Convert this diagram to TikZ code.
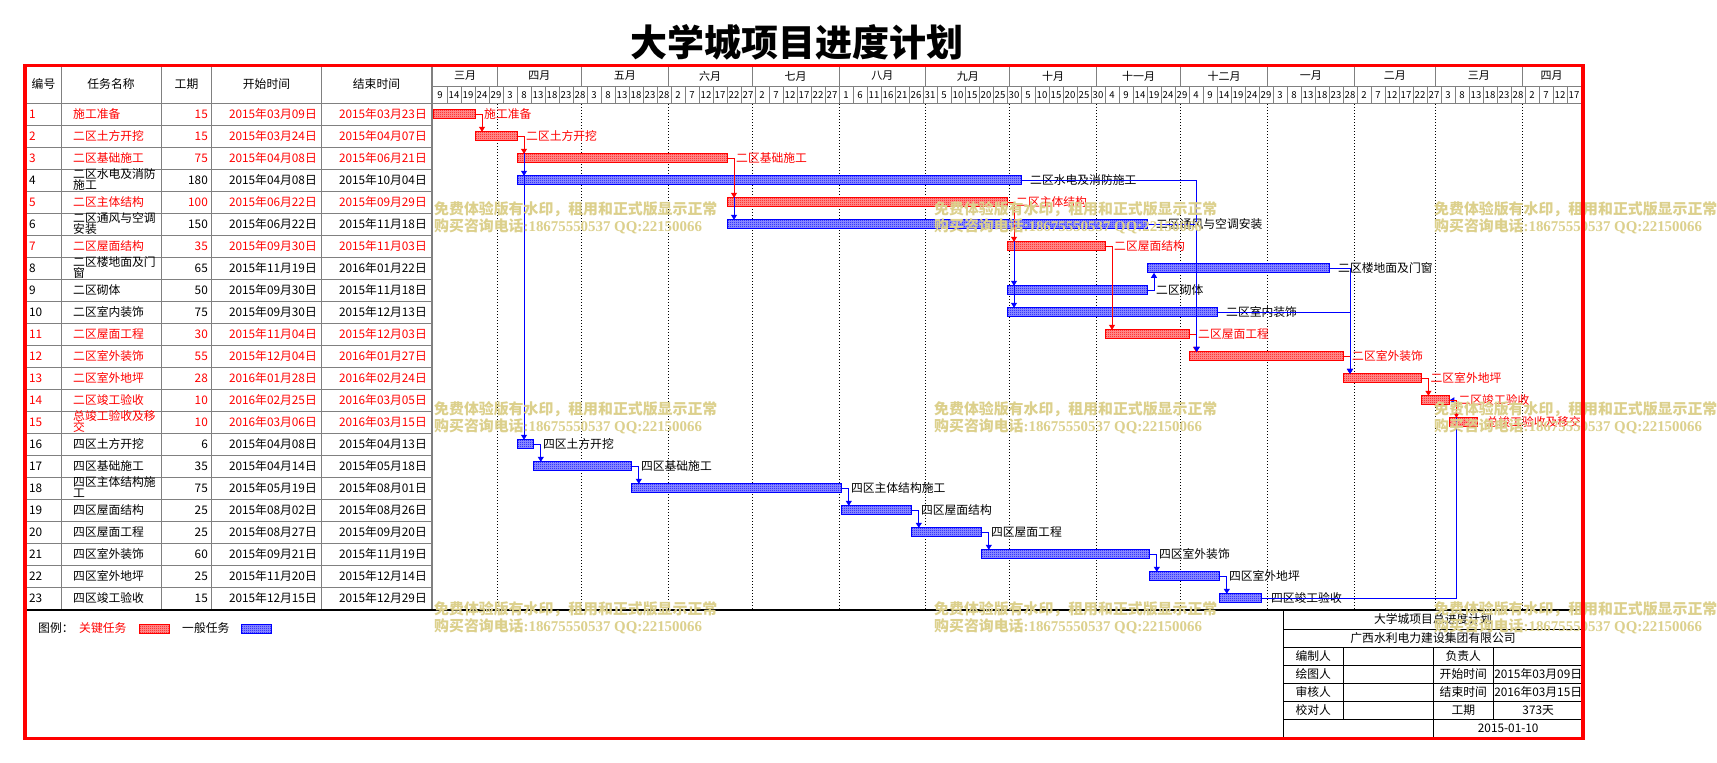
\documentclass[tikz,border=0pt]{standalone}
\usepackage{fontspec}
\setmainfont{Noto Sans CJK SC}
\newfontfamily\wmlatin{Liberation Serif}
\usetikzlibrary{patterns,arrows.meta}
\pgfdeclarepatternformonly{checker}{\pgfpointorigin}{\pgfpoint{2pt}{2pt}}{\pgfpoint{2pt}{2pt}}{%
  \pgfpathrectangle{\pgfpointorigin}{\pgfpoint{1pt}{1pt}}%
  \pgfpathrectangle{\pgfpoint{1pt}{1pt}}{\pgfpoint{1pt}{1pt}}%
  \pgfusepath{fill}}
\definecolor{wm}{RGB}{220,208,140}
\definecolor{gridgray}{RGB}{128,128,128}
\tikzset{
  cbar/.style={draw=red, line width=0.9pt, preaction={fill=red!40!white}, pattern=checker, pattern color=red,
    minimum height=9pt, inner sep=0pt, outer sep=0pt, anchor=west},
  gbar/.style={draw=blue, line width=0.9pt, preaction={fill=blue!40!white}, pattern=checker, pattern color=blue,
    minimum height=9pt, inner sep=0pt, outer sep=0pt, anchor=west},
  tx/.style={font=\fontsize{11.8}{12}\selectfont, inner sep=0pt, text height=9pt, text depth=1.5pt},
  lbl/.style={tx, anchor=west},
  gl/.style={gridgray, line width=1pt},
  bk/.style={black, line width=1pt},
  cl/.style={red, line width=1pt, -{Triangle[length=5pt,width=6pt]}},
  bl/.style={blue, line width=1pt, -{Triangle[length=5pt,width=6pt]}},
  wmk/.style={font=\fontsize{14.9}{15}\selectfont\bfseries, text=wm, inner sep=0pt, anchor=west},
  mlbl/.style={font=\fontsize{11}{12}\selectfont, inner sep=0pt},
  dlbl/.style={font=\fontsize{9.6}{10}\selectfont, inner sep=0pt},
  monline/.style={black, line width=0.8pt, dash pattern=on 1pt off 2pt},
}
\newcommand\gtask[6]{%
  \pgfmathsetmacro\gxs{433+2.8*#2}%
  \pgfmathsetmacro\gwd{2.8*(#3-#2)}%
  \pgfmathsetmacro\gyc{92.3+22*#1}%
  \node[#4, minimum width=\gwd pt] (b#1) at (\gxs,\gyc) {};%
  \node[lbl, text=#6] (l#1) at ([xshift=9pt]b#1.east) {#5};%
}
\newcommand\tblrow[6]{%
  \pgfmathsetmacro\ryc{92.3+22*#1}%
  \node[tx, anchor=west, text=#6] (n#1) at (29,\ryc) {#1};%
  \node[tx, anchor=west, text=#6] (t#1) at (73,\ryc) {#2};%
  \node[tx, anchor=east, text=#6] (d#1) at (208,\ryc) {#3};%
  \node[tx, anchor=east, text=#6] (s#1) at (317,\ryc) {#4};%
  \node[tx, anchor=east, text=#6] (e#1) at (427,\ryc) {#5};%
}
\newcommand\tblrowii[7]{%
  \pgfmathsetmacro\ryc{92.3+22*#1}%
  \node[tx, anchor=west, text=#7] (n#1) at (29,\ryc) {#1};%
  \node[tx, anchor=west, text=#7] (t#1) at (73,\ryc-5.5) {#2};%
  \node[tx, anchor=west, text=#7] (tb#1) at (73,\ryc+5.5) {#3};%
  \node[tx, anchor=east, text=#7] (d#1) at (208,\ryc) {#4};%
  \node[tx, anchor=east, text=#7] (s#1) at (317,\ryc) {#5};%
  \node[tx, anchor=east, text=#7] (e#1) at (427,\ryc) {#6};%
}
\begin{document}
\begin{tikzpicture}[x=1pt,y=-1pt]
\useasboundingbox (0,0) rectangle (1717,763);
\fill[white] (0,0) rectangle (1717,763);

% title
\node[font=\fontsize{37}{40}\selectfont\bfseries, inner sep=0pt] (title) at (797,42) {大学城项目进度计划};

% ---------- table grid ----------
\foreach \k in {0,...,22} \draw[gl] (25,{103.3+22*\k}) -- (432,{103.3+22*\k});
\foreach \x in {61.7,161.7,211.7,321.7} \draw[gl] (\x,65) -- (\x,609.3);
\draw[gl] (432,103.3) -- (1581,103.3);
\draw[gl] (433,86) -- (1581,86);
\foreach \k in {1,...,81} \draw[gl] ({433+14*\k},86) -- ({433+14*\k},103.3);
\draw[gridgray, line width=2pt] (432,65) -- (432,609.3);

% header of table
\node[tx] (h1) at (43.5,85) {编号};
\node[tx] (h2) at (111,85) {任务名称};
\node[tx] (h3) at (186.5,85) {工期};
\node[tx] (h4) at (266.5,85) {开始时间};
\node[tx] (h5) at (376.5,85) {结束时间};

% months
\foreach \m/\a/\b [count=\q] in {三月/0/23,四月/23/53,五月/53/84,六月/84/114,七月/114/145,八月/145/176,九月/176/206,十月/206/237,十一月/237/267,十二月/267/298,一月/298/329,二月/329/358,三月/358/389,四月/389/410}{
  \node[mlbl] (m\q) at ({433+1.4*(\a+\b)},76) {\m};
  \draw[gl] ({433+2.8*\b},65) -- ({433+2.8*\b},86);
}
\foreach \b in {23,53,84,114,145,176,206,237,267,298,329,358,389}
  \draw[monline] ({433+2.8*\b},104) -- ({433+2.8*\b},609);

% days
\foreach \dd [count=\k from 0] in {9,14,19,24,29,3,8,13,18,23,28,3,8,13,18,23,28,2,7,12,17,22,27,2,7,12,17,22,27,1,6,11,16,21,26,31,5,10,15,20,25,30,5,10,15,20,25,30,4,9,14,19,24,29,4,9,14,19,24,29,3,8,13,18,23,28,2,7,12,17,22,27,3,8,13,18,23,28,2,7,12,17}
  \node[dlbl] (dy\k) at ({440+14*\k},94.8) {\dd};

% ---------- table rows ----------
\tblrow{1}{施工准备}{15}{2015年03月09日}{2015年03月23日}{red}
\tblrow{2}{二区土方开挖}{15}{2015年03月24日}{2015年04月07日}{red}
\tblrow{3}{二区基础施工}{75}{2015年04月08日}{2015年06月21日}{red}
\tblrowii{4}{二区水电及消防}{施工}{180}{2015年04月08日}{2015年10月04日}{black}
\tblrow{5}{二区主体结构}{100}{2015年06月22日}{2015年09月29日}{red}
\tblrowii{6}{二区通风与空调}{安装}{150}{2015年06月22日}{2015年11月18日}{black}
\tblrow{7}{二区屋面结构}{35}{2015年09月30日}{2015年11月03日}{red}
\tblrowii{8}{二区楼地面及门}{窗}{65}{2015年11月19日}{2016年01月22日}{black}
\tblrow{9}{二区砌体}{50}{2015年09月30日}{2015年11月18日}{black}
\tblrow{10}{二区室内装饰}{75}{2015年09月30日}{2015年12月13日}{black}
\tblrow{11}{二区屋面工程}{30}{2015年11月04日}{2015年12月03日}{red}
\tblrow{12}{二区室外装饰}{55}{2015年12月04日}{2016年01月27日}{red}
\tblrow{13}{二区室外地坪}{28}{2016年01月28日}{2016年02月24日}{red}
\tblrow{14}{二区竣工验收}{10}{2016年02月25日}{2016年03月05日}{red}
\tblrowii{15}{总竣工验收及移}{交}{10}{2016年03月06日}{2016年03月15日}{red}
\tblrow{16}{四区土方开挖}{6}{2015年04月08日}{2015年04月13日}{black}
\tblrow{17}{四区基础施工}{35}{2015年04月14日}{2015年05月18日}{black}
\tblrowii{18}{四区主体结构施}{工}{75}{2015年05月19日}{2015年08月01日}{black}
\tblrow{19}{四区屋面结构}{25}{2015年08月02日}{2015年08月26日}{black}
\tblrow{20}{四区屋面工程}{25}{2015年08月27日}{2015年09月20日}{black}
\tblrow{21}{四区室外装饰}{60}{2015年09月21日}{2015年11月19日}{black}
\tblrow{22}{四区室外地坪}{25}{2015年11月20日}{2015年12月14日}{black}
\tblrow{23}{四区竣工验收}{15}{2015年12月15日}{2015年12月29日}{black}

% ---------- bars ----------
\gtask{1}{0}{15}{cbar}{施工准备}{red}
\gtask{2}{15}{30}{cbar}{二区土方开挖}{red}
\gtask{3}{30}{105}{cbar}{二区基础施工}{red}
\gtask{4}{30}{210}{gbar}{二区水电及消防施工}{black}
\gtask{5}{105}{205}{cbar}{二区主体结构}{red}
\gtask{6}{105}{255}{gbar}{二区通风与空调安装}{black}
\gtask{7}{205}{240}{cbar}{二区屋面结构}{red}
\gtask{8}{255}{320}{gbar}{二区楼地面及门窗}{black}
\gtask{9}{205}{255}{gbar}{二区砌体}{black}
\gtask{10}{205}{280}{gbar}{二区室内装饰}{black}
\gtask{11}{240}{270}{cbar}{二区屋面工程}{red}
\gtask{12}{270}{325}{cbar}{二区室外装饰}{red}
\gtask{13}{325}{353}{cbar}{二区室外地坪}{red}
\gtask{14}{353}{363}{cbar}{二区竣工验收}{red}
\gtask{15}{363}{373}{cbar}{总竣工验收及移交}{red}
\gtask{16}{30}{36}{gbar}{四区土方开挖}{black}
\gtask{17}{36}{71}{gbar}{四区基础施工}{black}
\gtask{18}{71}{146}{gbar}{四区主体结构施工}{black}
\gtask{19}{146}{171}{gbar}{四区屋面结构}{black}
\gtask{20}{171}{196}{gbar}{四区屋面工程}{black}
\gtask{21}{196}{256}{gbar}{四区室外装饰}{black}
\gtask{22}{256}{281}{gbar}{四区室外地坪}{black}
\gtask{23}{281}{296}{gbar}{四区竣工验收}{black}

% ---------- connectors ----------
\draw[bl] (b2.east) -| ([xshift=7pt]b16.north west);
\draw[bl] (b2.east) -| ([xshift=7pt]b4.north west);
\draw[bl] (b3.east) -| ([xshift=7pt]b6.north west);
\draw[bl] (b5.east) -| ([xshift=7pt]b10.north west);
\draw[bl] (b5.east) -| ([xshift=7pt]b9.north west);
\draw[bl] (b9.east) -| ([xshift=7pt]b8.south west);
\draw[bl] (b16.east) -| ([xshift=7pt]b17.north west);
\draw[bl] (b17.east) -| ([xshift=7pt]b18.north west);
\draw[bl] (b18.east) -| ([xshift=7pt]b19.north west);
\draw[bl] (b19.east) -| ([xshift=7pt]b20.north west);
\draw[bl] (b20.east) -| ([xshift=7pt]b21.north west);
\draw[bl] (b21.east) -| ([xshift=7pt]b22.north west);
\draw[bl] (b22.east) -| ([xshift=7pt]b23.north west);
\draw[bl] (b23.east) -| ([xshift=7pt]b14.east) -- (b14.east);

\draw[cl] (b1.east) -| ([xshift=7pt]b2.north west);
\draw[cl] (b2.east) -| ([xshift=7pt]b3.north west);
\draw[cl] (b3.east) -| ([xshift=7pt]b5.north west);
\draw[cl] (b5.east) -| ([xshift=7pt]b7.north west);
\draw[cl] (b7.east) -| ([xshift=7pt]b11.north west);
\draw[cl] (b11.east) -| ([xshift=7pt]b12.north west);
\draw[cl] (b12.east) -| ([xshift=7pt]b13.north west);
\draw[cl] (b13.east) -| ([xshift=7pt]b14.north west);
\draw[cl] (b14.east) -| ([xshift=7pt]b15.north west);

\draw[bl] (b4.east) -| ([xshift=7.7pt]b12.north west);
\draw[bl] (b6.east) -| ([xshift=7.7pt]b12.north west);
\draw[bl] (b8.east) -| ([xshift=7pt]b13.north west);
\draw[bl] (b10.east) -| ([xshift=7pt]b13.north west);

% ---------- legend ----------
\draw[black, line width=1.3pt] (25,610) -- (1583,610);
\node[lbl] (lg0) at (38,628.7) {图例：};
\node[lbl, text=red] (lg1) at (79,628.7) {关键任务};
\node[cbar, minimum width=30pt] (lgc) at (139,628.7) {};
\node[lbl] (lg2) at (182,628.7) {一般任务};
\node[gbar, minimum width=30pt] (lgg) at (241,628.7) {};

% ---------- title block ----------
\draw[bk] (1283.3,610) -- (1283.3,738);
\foreach \yy in {629.3,647.3,665.3,683.3,701.3,719.3} \draw[bk] (1283.3,\yy) -- (1583,\yy);
\draw[bk] (1343.3,647.3) -- (1343.3,719.3);
\draw[bk] (1433.3,647.3) -- (1433.3,738);
\draw[bk] (1493.3,647.3) -- (1493.3,719.3);
\node[tx] (tb1) at (1433,619.6) {大学城项目总进度计划};
\node[tx] (tb2) at (1433,638.3) {广西水利电力建设集团有限公司};
\node[tx] (tb3) at (1313.3,656.3) {编制人};
\node[tx] (tb4) at (1313.3,674.3) {绘图人};
\node[tx] (tb5) at (1313.3,692.3) {审核人};
\node[tx] (tb6) at (1313.3,710.3) {校对人};
\node[tx] (tb7) at (1463.3,656.3) {负责人};
\node[tx] (tb8) at (1463.3,674.3) {开始时间};
\node[tx] (tb9) at (1463.3,692.3) {结束时间};
\node[tx] (tb10) at (1463.3,710.3) {工期};
\node[tx] (tb11) at (1538.2,674.3) {2015年03月09日};
\node[tx] (tb12) at (1538.2,692.3) {2016年03月15日};
\node[tx] (tb13) at (1538.2,710.3) {373天};
\node[tx] (tb14) at (1508.2,728.7) {2015-01-10};

% ---------- watermarks ----------
\foreach \c in {0,1,2} \foreach \r in {0,1,2} {
  \node[wmk] (wa\c\r) at ({434+500*\c},{209+200*\r}) {免费体验版有水印，租用和正式版显示正常};
  \node[wmk] (wb\c\r) at ({434+500*\c},{226+200*\r}) {购买咨询电话{\wmlatin\bfseries :18675550537 QQ:22150066}};
}

% ---------- frame ----------
\draw[red, line width=3.5pt] (25,65.5) rectangle (1583,738.5);
\end{tikzpicture}
\end{document}
